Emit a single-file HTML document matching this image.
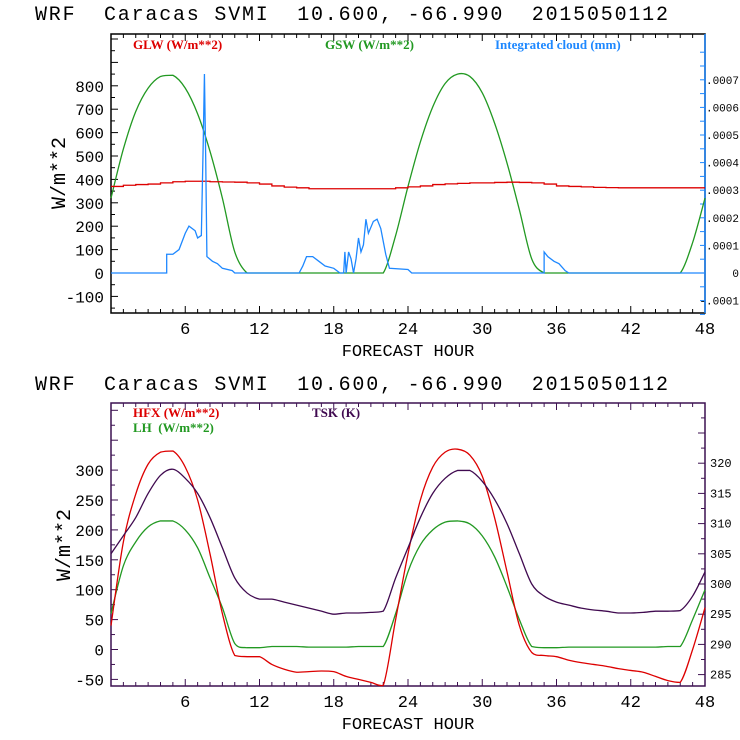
<!DOCTYPE html>
<html><head><meta charset="utf-8"><style>
body{margin:0;background:#fff;width:740px;height:740px;overflow:hidden}
svg{display:block}
text{font-family:"Liberation Mono",monospace}
.lg{font-family:"Liberation Serif",serif;font-weight:bold;font-size:13px}
</style></head><body>
<svg id="c" width="740" height="740"></svg>
<script>
const hours=[0,1,2,3,4,5,6,7,8,9,10,11,12,13,14,15,16,17,18,19,20,21,22,23,24,25,26,27,28,29,30,31,32,33,34,35,36,37,38,39,40,41,42,43,44,45,46,47,48];
const gsw=[320,530,690,790,840,845,790,680,520,320,90,0,0,0,0,0,0,0,0,0,0,0,0,160,370,560,710,810,850,840,770,640,470,270,60,0,0,0,0,0,0,0,0,0,0,0,0,130,320];
const glw=[370,375,378,380,385,390,392,392,390,389,388,385,380,372,367,364,360,360,360,360,360,360,360,364,368,372,378,381,383,385,385,387,388,387,385,380,372,370,368,366,365,364,364,364,364,364,364,364,364];
const cloudH=[0,4.5,4.5,5,5.5,6,6.3,6.8,7,7.3,7.45,7.55,7.65,7.75,8.2,8.6,9,9.8,10,15.2,15.5,15.8,16.3,16.8,17.3,18,18.5,18.8,18.9,19,19.2,19.4,19.6,19.8,20,20.2,20.4,20.6,20.8,21.2,21.5,21.8,22.2,22.5,24,24.3,35,35,35.3,35.8,36.2,36.7,37,48];
const cloudV=[0,0,0.0000680,0.0000680,0.0000850,0.000144,0.000170,0.000153,0.000127,0.000136,0.000466,0.000721,0.000424,0.0000594,0.0000424,0.0000339,0.0000170,0.0000085,0,0,0.0000254,0.0000594,0.0000594,0.0000424,0.0000254,0.0000170,0,0,0.0000763,0,0.0000763,0.0000509,0,0.0000509,0.000127,0.0000763,0.000102,0.000195,0.000144,0.000187,0.000195,0.000161,0.0000678,0.0000170,0.0000127,0,0,0.0000763,0.0000594,0.0000424,0.0000339,0.0000085,0,0];
const hfx=[40,180,260,310,330,332,305,250,160,60,-10,-12,-12,-25,-33,-38,-37,-36,-37,-45,-50,-55,-60,50,160,250,305,330,335,325,290,220,130,40,-5,-10,-12,-18,-22,-25,-28,-32,-35,-38,-45,-52,-55,0,70];
const lh=[60,140,180,205,215,215,200,170,120,70,10,3,3,5,5,5,4,4,4,4,5,5,5,60,130,175,200,213,215,210,190,155,105,50,5,3,3,4,4,4,4,4,4,4,4,5,5,50,100];
const tsk=[305,308,311,315,318,319,317.5,315,311,306,301,298.5,297.5,297.5,297,296.5,296,295.5,295,295.2,295.2,295.3,295.5,301,306,311,315,317.5,318.8,318.8,317,314,310,305,300,298,297,296.5,296,295.7,295.5,295.2,295.2,295.3,295.5,295.5,295.6,298,302];
const xTicks=[6,12,18,24,30,36,42,48];
const topLeftTicks=[-100,0,100,200,300,400,500,600,700,800];
const topRightTicks=[-0.0001,0,0.0001,0.0002,0.0003,0.0004,0.0005,0.0006,0.0007];
const topRightLabels=["-.0001","0",".0001",".0002",".0003",".0004",".0005",".0006",".0007"];
const botLeftTicks=[-50,0,50,100,150,200,250,300];
const botRightTicks=[285,290,295,300,305,310,315,320];

const svg=document.getElementById('c');const NS='http://www.w3.org/2000/svg';
function el(t,a,txt){const e=document.createElementNS(NS,t);for(const k in a)e.setAttribute(k,a[k]);if(txt!==undefined)e.textContent=txt;svg.appendChild(e);return e;}
const X0=111,X1=705;const x=h=>X0+(X1-X0)*h/48;
const yT=v=>273-v*0.234, yTR=v=>273-v*276000;
const T0=34,T1=313;
const yB=v=>649.5-v*0.598, yBR=v=>644.4-(v-290)*6.04;
const B0=403,B1=686;

function title(y,n){const t=el('text',{x:35,y:y,'font-size':20,fill:'#000',textLength:633,lengthAdjust:'spacing','xml:space':'preserve',style:'white-space:pre'},'WRF  Caracas SVMI  10.600, -66.990  2015050112');
}
title(20,'top-title');title(390,'bottom-title');

function frame(t0,t1,col,name){const r=el('rect',{x:X0,y:t0,width:X1-X0,height:t1-t0,fill:'none',stroke:col,'stroke-width':1.5});

for(let h=1;h<48;h++){const L=h%6==0?7:4;el('line',{x1:x(h),x2:x(h),y1:t1,y2:t1-L,stroke:col});el('line',{x1:x(h),x2:x(h),y1:t0,y2:t0+L,stroke:col});}
xTicks.forEach(h=>{const t=el('text',{x:x(h),y:t1+21,'font-size':17,'text-anchor':'middle',fill:'#000'},String(h));});
const xt=el('text',{x:408,y:t1+43,'font-size':17,'text-anchor':'middle',fill:'#000'},'FORECAST HOUR');}
const cl=(v,a,b)=>Math.min(Math.max(v,Math.min(a,b)),Math.max(a,b));
function line(hs,vs,fx,col,name,mode){const P=hs.map((h,i)=>[x(h),fx(vs[i])]);let d='M'+P[0][0]+','+P[0][1];
for(let i=1;i<P.length;i++){if(mode==='step'){d+='H'+P[i][0]+'V'+P[i][1];}
else if(mode==='smooth'){const p0=P[Math.max(i-2,0)],p1=P[i-1],p2=P[i],p3=P[Math.min(i+1,P.length-1)];
let c1y=p1[1]+(p2[1]-p0[1])/6,c2y=p2[1]-(p3[1]-p1[1])/6;
const ext=Math.abs(p2[1]-p1[1])*0.25+0.5;
const lo=Math.min(p1[1],p2[1])-ext,hi=Math.max(p1[1],p2[1])+ext;
c1y=Math.min(Math.max(c1y,lo),hi);c2y=Math.min(Math.max(c2y,lo),hi);
// never undershoot the lower endpoint for flat segments
if(Math.abs(p2[1]-p1[1])<2){c1y=cl(c1y,p1[1],p2[1]);c2y=cl(c2y,p1[1],p2[1]);}
const c1=[p1[0]+(p2[0]-p0[0])/6,c1y],c2=[p2[0]-(p3[0]-p1[0])/6,c2y];
d+='C'+c1[0]+','+c1[1]+' '+c2[0]+','+c2[1]+' '+p2[0]+','+p2[1];}
else d+='L'+P[i][0]+','+P[i][1];}
const p=el('path',{d:d,fill:'none',stroke:col,'stroke-width':1.3});}

// TOP
frame(T0,T1,'#000','top-plot-frame');
el('line',{x1:X1,x2:X1,y1:T0,y2:T1,stroke:'#1e88ff','stroke-width':1.5});
for(let v=-150;v<=1000;v+=50){const L=v%100==0?7:4;el('line',{x1:X0,x2:X0+L,y1:yT(v),y2:yT(v),stroke:'#000'});}
topLeftTicks.forEach(v=>{const t=el('text',{x:X0-7,y:yT(v)+6,'font-size':16,'text-anchor':'end',fill:'#000'},String(v));});
for(let v=-0.00015;v<=0.00085;v+=0.00005){el('line',{x1:X1,x2:X1-5,y1:yTR(v),y2:yTR(v),stroke:'#1e88ff'});}
topRightTicks.forEach((v,i)=>{const t=el('text',{x:739,y:yTR(v)+4,'font-size':11,'text-anchor':'end',fill:'#000'},topRightLabels[i]);});
let yt=el('text',{x:65,y:173,'font-size':20,'text-anchor':'middle',fill:'#000',transform:'rotate(-90 65 173)'},'W/m**2');
line(hours,gsw,yT,'#229922','gsw-line','smooth');
line(hours,glw,yT,'#dd0000','glw-line','step');
line(cloudH,cloudV,yTR,'#1e88ff','cloud-line','linear');
[['GLW (W/m**2)',133,'#dd0000','legend-glw'],['GSW (W/m**2)',325,'#229922','legend-gsw'],['Integrated cloud (mm)',495,'#1e88ff','legend-cloud']].forEach(a=>{const t=el('text',{x:a[1],y:49,fill:a[2],class:'lg'},a[0]);});

// BOTTOM
frame(B0,B1,'#3c1050','bottom-plot-frame');
for(let v=-75;v<=425;v+=25){if(yB(v)<B0||yB(v)>B1)continue;const L=v%50==0?7:4;el('line',{x1:X0,x2:X0+L,y1:yB(v),y2:yB(v),stroke:'#3c1050'});}
for(let v=282.5;v<=330;v+=2.5){if(yBR(v)<B0||yBR(v)>B1)continue;const L=v%5==0?7:4;el('line',{x1:X1,x2:X1-L,y1:yBR(v),y2:yBR(v),stroke:'#3c1050'});}
botLeftTicks.forEach(v=>{const t=el('text',{x:X0-7,y:yB(v)+6,'font-size':16,'text-anchor':'end',fill:'#000'},String(v));});
botRightTicks.forEach(v=>{const t=el('text',{x:710,y:yBR(v)+4,'font-size':12,fill:'#000'},String(v));});
yt=el('text',{x:70,y:545,'font-size':20,'text-anchor':'middle',fill:'#000',transform:'rotate(-90 70 545)'},'W/m**2');
line(hours,lh,yB,'#229922','lh-line','smooth');
line(hours,hfx,yB,'#dd0000','hfx-line','smooth');
line(hours,tsk,yBR,'#400a50','tsk-line','smooth');
[['HFX (W/m**2)',133,417,'#dd0000','legend-hfx'],['LH  (W/m**2)',133,432,'#229922','legend-lh'],['TSK (K)',312,417,'#400a50','legend-tsk']].forEach(a=>{const t=el('text',{x:a[1],y:a[2],fill:a[3],class:'lg','xml:space':'preserve',style:'white-space:pre'},a[0]);});
</script>
</body></html>
